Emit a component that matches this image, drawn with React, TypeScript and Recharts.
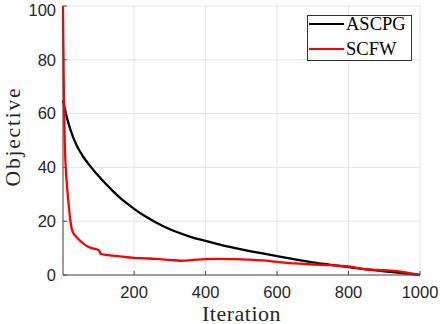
import {
  CartesianGrid,
  Label,
  Legend,
  Line,
  LineChart,
  XAxis,
  YAxis,
} from 'recharts';

const iterations = [
  1, 2, 3, 4, 5, 7, 10, 15, 20, 25, 30, 35, 40, 50, 60, 70, 80, 90, 100, 103, 106, 120, 140, 160, 180,
  200, 230, 260, 300, 330, 360, 400, 440, 480, 520, 560, 600, 650, 700, 750, 800, 850, 900, 950, 1000,
];
const ascpg = [
  65, 64.35, 63.7, 63.05, 62.4, 61.3, 59.6, 57, 54.8, 52.8, 51, 49.45, 48, 45.6, 43.5, 41.7, 40.0, 38.4,
  36.9, 36.45, 36.0, 34.0, 31.3, 28.8, 26.6, 24.6, 21.9, 19.6, 17, 15.5, 14.1, 12.7, 11.3, 10.1, 9, 8, 7,
  5.8, 4.7, 3.8, 2.9, 2.1, 1.4, 0.7, 0,
];
const scfw = [
  100, 86, 73, 63, 55, 45, 37, 29, 22, 17.5, 15.5, 14.7, 13.9, 12.6, 11.5, 10.6, 10.1, 9.7, 9.3, 8.9, 7.9,
  7.5, 7.2, 6.9, 6.6, 6.4, 6.2, 6.0, 5.6, 5.3, 5.5, 5.9, 6.0, 5.9, 5.7, 5.4, 4.9, 4.3, 3.9, 3.7, 3.2, 2.1,
  1.8, 1.2, 0,
];
const xTicks = [200, 400, 600, 800, 1000];
const yTicks = [0, 20, 40, 60, 80, 100];

const data = iterations.map((it, i) => ({ iter: it, ascpg: ascpg[i], scfw: scfw[i] }));

const axisColor = '#4a4a4a';
const tickFont = { fill: '#262626', fontSize: 16.5, fontFamily: '"Liberation Sans", Arial, sans-serif' };
const serif = '"Liberation Serif", "Times New Roman", serif';

const renderXLabel = (props: any) => {
  const vb = props.viewBox;
  return (
    <text x={vb.x + vb.width / 2} y={vb.y + vb.height - 3.5} textAnchor="middle" fill="#262626" fontSize={22} letterSpacing={0.5} fontFamily={serif}>
      Iteration
    </text>
  );
};

const renderYLabel = (props: any) => {
  const vb = props.viewBox;
  const cx = vb.x + 20;
  const cy = vb.y + vb.height / 2 - 4;
  return (
    <text
      x={cx}
      y={cy}
      transform={`rotate(-90 ${cx} ${cy})`}
      textAnchor="middle"
      fill="#262626"
      fontSize={21.5}
      letterSpacing={1.8}
      fontFamily={serif}
    >
      Objective
    </text>
  );
};

const renderLegend = (props: any) => (
  <div
    style={{
      width: 105,
      height: 46,
      boxSizing: 'border-box',
      border: '1px solid #333',
      background: '#fff',
      position: 'relative',
    }}
  >
    {(props.payload || []).map((p: any, i: number) => (
      <div
        key={p.value}
        style={{ position: 'absolute', left: 1, top: -1.7 + i * 25, height: 20, display: 'flex', alignItems: 'center' }}
      >
        <span style={{ display: 'inline-block', width: 35, height: 2, background: p.color }} />
        <span style={{ marginLeft: 2, fontFamily: serif, fontSize: 18.5, lineHeight: '20px', color: '#000' }}>{p.value}</span>
      </div>
    ))}
  </div>
);

export default function App() {
  return (
    <div style={{ position: 'absolute', left: 0, top: 0, background: '#fff' }}>
      <LineChart width={440} height={324} data={data} margin={{ top: 6, right: 20, bottom: 0, left: 0 }}>
        <CartesianGrid stroke="#e4e4e4" />
        <XAxis
          dataKey="iter"
          type="number"
          domain={[1, 1000]}
          ticks={xTicks}
          height={49}
          tickSize={-4}
          tickMargin={15}
          stroke={axisColor}
          tick={tickFont}
        >
          <Label content={renderXLabel} />
        </XAxis>
        <XAxis
          xAxisId="top"
          orientation="top"
          dataKey="iter"
          type="number"
          domain={[1, 1000]}
          ticks={xTicks}
          height={0}
          tickSize={-4}
          tick={false}
          stroke={axisColor}
        />
        <YAxis
          domain={[0, 100]}
          ticks={yTicks}
          width={63}
          tickSize={-4}
          tickMargin={11}
          stroke={axisColor}
          tick={tickFont}
        >
          <Label content={renderYLabel} />
        </YAxis>
        <YAxis
          yAxisId="right"
          orientation="right"
          domain={[0, 100]}
          ticks={yTicks}
          width={0}
          tickSize={-4}
          tick={false}
          stroke={axisColor}
        />
        <Legend
          layout="vertical"
          align="center"
          verticalAlign="middle"
          content={renderLegend}
          wrapperStyle={{ top: 15, left: 307, width: 105, height: 46 }}
        />
        <Line
          type="monotone"
          dataKey="ascpg"
          name="ASCPG"
          stroke="#000000"
          strokeWidth={2.3}
          dot={false}
          isAnimationActive={false}
        />
        <Line
          type="monotone"
          dataKey="scfw"
          name="SCFW"
          stroke="#ff0000"
          strokeWidth={2.3}
          dot={false}
          isAnimationActive={false}
        />
      </LineChart>
    </div>
  );
}
